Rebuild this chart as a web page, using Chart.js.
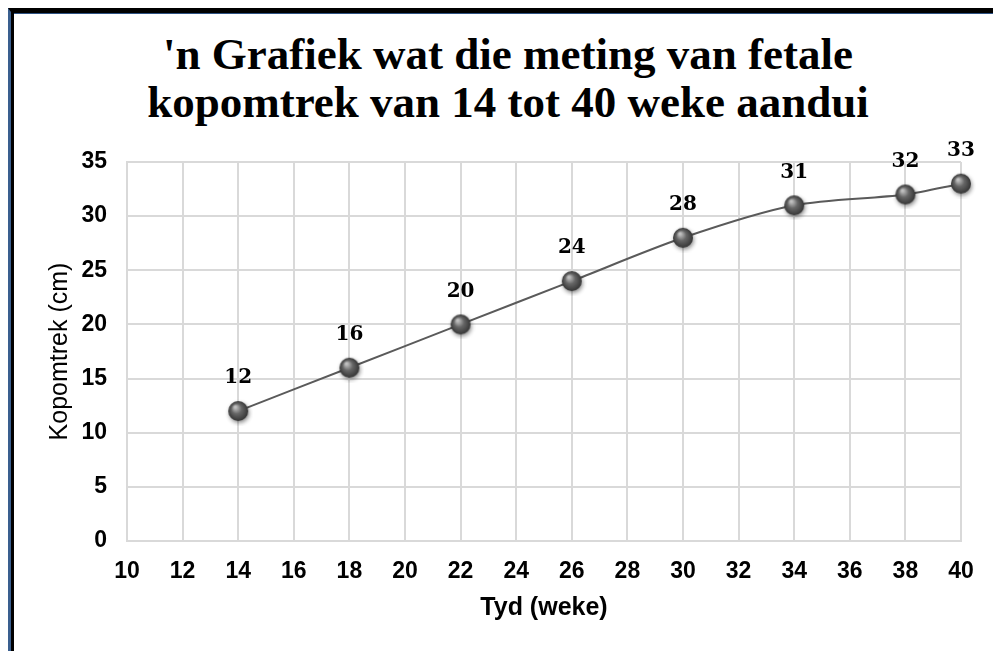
<!DOCTYPE html>
<html>
<head>
<meta charset="utf-8">
<script src="https://cdn.jsdelivr.net/npm/chart.js@4"></script>
<style>
  body { margin: 0; background: #fff; }
  #wrap { position: relative; width: 993px; height: 651px; overflow: hidden; }
  #frame {
    position: absolute; left: 8px; top: 8px; width: 1000px; height: 700px;
    border-left: 3px solid #3a5f8f; border-top: 4px solid #000;
    box-shadow: inset 3px 1px 0 #000, inset 0 2px 0 #2e5283;
  }
  #title {
    position: absolute; left: 8px; width: 1000px; top: 30px; text-align: center;
    font-family: "Liberation Serif", serif; font-weight: bold; font-size: 45px;
    line-height: 48px; color: #000;
  }
  #chart { position: absolute; left: 0; top: 0; }
</style>
</head>
<body>
<div id="wrap">
  <div id="frame"></div>
  <div id="title">'n Grafiek wat die meting van fetale<br>kopomtrek van 14 tot 40 weke aandui</div>
  <canvas id="chart" width="993" height="651"></canvas>
</div>
<script>
// Data
const weeks = [14, 18, 22, 26, 30, 34, 38, 40];
const headCircumference = [12, 16, 20, 24, 28, 31, 32, 33];
const xTicks = [10, 12, 14, 16, 18, 20, 22, 24, 26, 28, 30, 32, 34, 36, 38, 40];
const yTicks = [0, 5, 10, 15, 20, 25, 30, 35];

// Sphere-looking marker
function makeSphere(r) {
    const size = r * 2 + 10;
    const c = document.createElement('canvas');
    c.width = size;
    c.height = size;
    const g = c.getContext('2d');
    const cx = size / 2, cy = size / 2;
    g.shadowColor = 'rgba(0,0,0,0.45)';
    g.shadowBlur = 4;
    g.shadowOffsetX = 1;
    g.shadowOffsetY = 2;
    const grad = g.createRadialGradient(cx - r * 0.3, cy - r * 0.4, 1, cx, cy, r);
    grad.addColorStop(0, '#c0c0c0');
    grad.addColorStop(0.45, '#666');
    grad.addColorStop(1, '#353535');
    g.fillStyle = grad;
    g.beginPath();
    g.arc(cx, cy, r, 0, Math.PI * 2);
    g.fill();
    return c;
}

// Value labels above each point
const valueLabels = {
    id: 'valueLabels',
    afterDatasetsDraw(chart) {
        const ctx = chart.ctx;
        const meta = chart.getDatasetMeta(0);
        ctx.save();
        ctx.font = 'bold 20px "DejaVu Serif", serif';
        ctx.fillStyle = '#000';
        ctx.textAlign = 'center';
        ctx.textBaseline = 'middle';
        meta.data.forEach((pt, i) => {
            ctx.fillText(headCircumference[i], pt.x, pt.y - 33);
        });
        ctx.restore();
    }
};

const ctx = document.getElementById('chart').getContext('2d');
new Chart(ctx, {
    type: 'line',
    data: {
        datasets: [{
            data: weeks.map((w, i) => ({ x: w, y: headCircumference[i] })),
            borderColor: '#5a5a5a',
            borderWidth: 2,
            tension: 0.3,
            pointStyle: makeSphere(10),
            clip: false
        }]
    },
    options: {
        responsive: false,
        animation: false,
        layout: { padding: { left: 14, right: 32, top: 162, bottom: 20 } },
        plugins: {
            legend: { display: false },
            tooltip: { enabled: false }
        },
        scales: {
            x: {
                type: 'linear',
                min: 10,
                max: 40,
                afterBuildTicks: (s) => { s.ticks = xTicks.map(v => ({ value: v })); },
                afterFit: (s) => { s.height = 90; },
                grid: { color: '#d9d9d9', lineWidth: 2, drawTicks: false },
                border: { color: '#d9d9d9', width: 2 },
                ticks: {
                    padding: 17,
                    color: '#000',
                    font: { family: 'Liberation Sans', size: 23, weight: 'bold' }
                },
                title: {
                    display: true,
                    text: 'Tyd (weke)',
                    color: '#000',
                    padding: { top: 0, bottom: 8 },
                    font: { family: 'Liberation Sans', size: 25, weight: 'bold' }
                }
            },
            y: {
                min: 0,
                max: 35,
                afterBuildTicks: (s) => { s.ticks = yTicks.map(v => ({ value: v })); },
                afterFit: (s) => { s.width = 113; },
                grid: { color: '#d9d9d9', lineWidth: 2, drawTicks: false },
                border: { color: '#d9d9d9', width: 2 },
                ticks: {
                    padding: 20,
                    color: '#000',
                    font: { family: 'Liberation Sans', size: 23, weight: 'bold' }
                },
                title: {
                    display: true,
                    text: 'Kopomtrek (cm)',
                    color: '#000',
                    padding: { top: 31, bottom: 0 },
                    font: { family: 'Liberation Sans', size: 25 }
                }
            }
        }
    },
    plugins: [valueLabels]
});
</script>
</body>
</html>
